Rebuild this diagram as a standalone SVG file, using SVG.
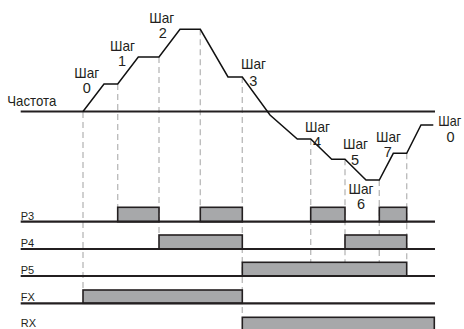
<svg xmlns="http://www.w3.org/2000/svg" width="464" height="329" viewBox="0 0 464 329">
<style>
.bg{fill:#ffffff}
.dash{stroke:#bdbdbd;stroke-width:1.4;stroke-dasharray:6 4;fill:none}
.axis{stroke:#231f20;stroke-width:2.2;fill:none}
.curve{stroke:#111;stroke-width:1.5;fill:none;stroke-linejoin:miter}
.bar{fill:#a7a8aa;stroke:#231f20;stroke-width:1.6}
.lbl{font-family:"Liberation Sans",Arial,sans-serif;font-size:14.5px;fill:#231f20}
.sig{font-family:"Liberation Sans",Arial,sans-serif;font-size:11px;fill:#231f20}
</style>
<rect class="bg" x="0" y="0" width="464" height="329"/>
<g id="connectors">
  <line class="dash" x1="83" y1="112" x2="83" y2="290"/>
  <line class="dash" x1="117.7" y1="84" x2="117.7" y2="207.3"/>
  <line class="dash" x1="159" y1="57" x2="159" y2="235"/>
  <line class="dash" x1="200.3" y1="29.3" x2="200.3" y2="207.3"/>
  <line class="dash" x1="242.3" y1="77" x2="242.3" y2="317.3"/>
  <line class="dash" x1="310.7" y1="139" x2="310.7" y2="262.3"/>
  <line class="dash" x1="345" y1="159.3" x2="345" y2="262.3"/>
  <line class="dash" x1="379.3" y1="180" x2="379.3" y2="262.3"/>
  <line class="dash" x1="406.7" y1="153.3" x2="406.7" y2="262.3"/>
</g>
<g id="frequency">
  <line class="axis" x1="20.7" y1="111.5" x2="435" y2="111.5"/>
  <polyline class="curve" points="83,111.5 104,84 117.7,84 138.3,57 159,57 180,29.3 200.3,29.3 228,77 242.3,77 270,115 297.3,139 310.7,139 331.7,159.3 345,159.3 366,180 379.3,180 393.3,153.3 406.7,153.3 421,125 433.3,125"/>
  <text class="lbl" x="7.3" y="106" textLength="49" lengthAdjust="spacingAndGlyphs">Частота</text>
</g>
<g id="step-labels">
  <text class="lbl" x="74.3" y="78.3" textLength="25" lengthAdjust="spacingAndGlyphs">Шаг</text>
  <text class="lbl" x="86.7" y="93.3" text-anchor="middle">0</text>
  <text class="lbl" x="110" y="50.5" textLength="25" lengthAdjust="spacingAndGlyphs">Шаг</text>
  <text class="lbl" x="122" y="65.5" text-anchor="middle">1</text>
  <text class="lbl" x="149.3" y="23.3" textLength="25" lengthAdjust="spacingAndGlyphs">Шаг</text>
  <text class="lbl" x="162.7" y="38.3" text-anchor="middle">2</text>
  <text class="lbl" x="241" y="68.5" textLength="25" lengthAdjust="spacingAndGlyphs">Шаг</text>
  <text class="lbl" x="253.3" y="86" text-anchor="middle">3</text>
  <text class="lbl" x="305" y="131.5" textLength="25" lengthAdjust="spacingAndGlyphs">Шаг</text>
  <text class="lbl" x="317" y="146.7" text-anchor="middle">4</text>
  <text class="lbl" x="343" y="149" textLength="25" lengthAdjust="spacingAndGlyphs">Шаг</text>
  <text class="lbl" x="355" y="164.5" text-anchor="middle">5</text>
  <text class="lbl" x="348.5" y="193.5" textLength="25" lengthAdjust="spacingAndGlyphs">Шаг</text>
  <text class="lbl" x="361" y="209" text-anchor="middle">6</text>
  <text class="lbl" x="376" y="141.5" textLength="25" lengthAdjust="spacingAndGlyphs">Шаг</text>
  <text class="lbl" x="387.7" y="156.7" text-anchor="middle">7</text>
  <text class="lbl" x="438.3" y="126" textLength="23" lengthAdjust="spacingAndGlyphs">Шаг</text>
  <text class="lbl" x="450.5" y="142" text-anchor="middle">0</text>
</g>
<g id="P3">
  <rect class="bar" x="117.7" y="207.3" width="41.3" height="14.4"/>
  <rect class="bar" x="200.3" y="207.3" width="42" height="14.4"/>
  <rect class="bar" x="310.7" y="207.3" width="34.3" height="14.4"/>
  <rect class="bar" x="379.3" y="207.3" width="27.4" height="14.4"/>
  <line class="axis" x1="20.7" y1="221.7" x2="435" y2="221.7"/>
  <text class="sig" x="20.7" y="219.5">P3</text>
</g>
<g id="P4">
  <rect class="bar" x="159" y="235" width="83.3" height="14"/>
  <rect class="bar" x="345" y="235" width="61.7" height="14"/>
  <line class="axis" x1="20.7" y1="249" x2="435" y2="249"/>
  <text class="sig" x="20.7" y="246.8">P4</text>
</g>
<g id="P5">
  <rect class="bar" x="242.3" y="262.3" width="164.4" height="13.7"/>
  <line class="axis" x1="20.7" y1="276" x2="435" y2="276"/>
  <text class="sig" x="20.7" y="273.8">P5</text>
</g>
<g id="FX">
  <rect class="bar" x="83" y="290" width="159.3" height="13.3"/>
  <line class="axis" x1="20.7" y1="303.3" x2="435" y2="303.3"/>
  <text class="sig" x="20.7" y="300.8">FX</text>
</g>
<g id="RX">
  <rect class="bar" x="242.3" y="317.3" width="192" height="20"/>
  <text class="sig" x="20.7" y="326.5">RX</text>
</g>
</svg>
